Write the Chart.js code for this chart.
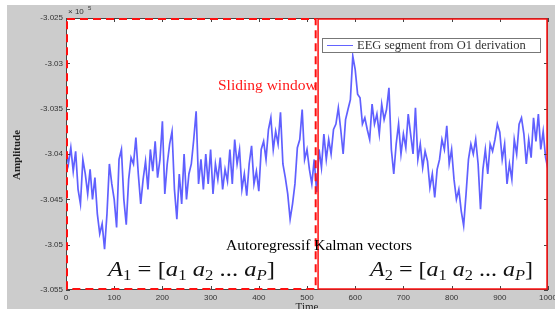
<!DOCTYPE html>
<html>
<head>
<meta charset="utf-8">
<script src="https://cdn.jsdelivr.net/npm/chart.js@4.4.1/dist/chart.umd.min.js"></script>
<style>
  html, body { margin: 0; padding: 0; background: #fff; }
  #wrap { width: 555px; height: 309px; }
</style>
</head>
<body>
<div id="wrap"><canvas id="eeg" width="555" height="309"></canvas></div>
<script>
// EEG amplitude (x 10^5), one sample every 5 time units
const timeStart = 0;
const timeStep = 5;
const amplitude = [
  -3.0395,-3.0411,-3.0393,-3.0419,-3.0397,-3.0439,-3.0455,-3.0406,-3.0422,-3.0444,-3.0417,-3.0450,-3.0426,-3.0466,-3.0488,-3.0477,-3.0505,-3.0466,-3.0411,-3.0433,
  -3.0450,-3.0481,-3.0406,-3.0395,-3.0450,-3.0478,-3.0428,-3.0404,-3.0411,-3.0382,-3.0422,-3.0455,-3.0428,-3.0408,-3.0439,-3.0395,-3.0419,-3.0386,-3.0426,-3.0406,
  -3.0364,-3.0444,-3.0411,-3.0389,-3.0375,-3.0439,-3.0472,-3.0422,-3.0455,-3.0400,-3.0450,-3.0422,-3.0411,-3.0384,-3.0353,-3.0433,-3.0406,-3.0439,-3.0400,-3.0433,
  -3.0395,-3.0444,-3.0411,-3.0428,-3.0404,-3.0439,-3.0417,-3.0430,-3.0395,-3.0433,-3.0384,-3.0411,-3.0395,-3.0439,-3.0422,-3.0446,-3.0411,-3.0391,-3.0433,-3.0419,
  -3.0441,-3.0395,-3.0386,-3.0406,-3.0373,-3.0360,-3.0395,-3.0375,-3.0389,-3.0354,-3.0411,-3.0426,-3.0444,-3.0472,-3.0455,-3.0433,-3.0393,-3.0384,-3.0351,-3.0406,
  -3.0395,-3.0417,-3.0433,-3.0406,-3.0442,-3.0395,-3.0415,-3.0378,-3.0406,-3.0384,-3.0400,-3.0373,-3.0367,-3.0349,-3.0373,-3.0400,-3.0362,-3.0351,-3.0340,-3.0292,
  -3.0307,-3.0334,-3.0338,-3.0367,-3.0360,-3.0373,-3.0384,-3.0345,-3.0367,-3.0356,-3.0378,-3.0345,-3.0362,-3.0351,-3.0327,-3.0395,-3.0422,-3.0389,-3.0367,-3.0400,
  -3.0378,-3.0393,-3.0356,-3.0378,-3.0400,-3.0349,-3.0406,-3.0389,-3.0415,-3.0397,-3.0408,-3.0437,-3.0422,-3.0448,-3.0417,-3.0406,-3.0384,-3.0395,-3.0369,-3.0411,
  -3.0395,-3.0428,-3.0450,-3.0439,-3.0463,-3.0479,-3.0444,-3.0406,-3.0389,-3.0400,-3.0384,-3.0411,-3.0461,-3.0417,-3.0395,-3.0422,-3.0389,-3.0397,-3.0384,-3.0367,
  -3.0376,-3.0406,-3.0389,-3.0433,-3.0411,-3.0428,-3.0384,-3.0400,-3.0367,-3.0360,-3.0378,-3.0411,-3.0384,-3.0404,-3.0360,-3.0386,-3.0356,-3.0395,-3.0375,-3.0404,
  -3.0417
];

const xTicks = [0, 100, 200, 300, 400, 500, 600, 700, 800, 900, 1000];
const yTicks = [-3.055, -3.05, -3.045, -3.04, -3.035, -3.03, -3.025];
const yTickLabels = ['-3.055', '-3.05', '-3.045', '-3.04', '-3.035', '-3.03', '-3.025'];

// sliding window boundaries (time units)
const windowEnd = 518;
const secondStart = 523;

const seriesLabel = 'EEG segment from O1 derivation';

const points = amplitude.map((v, i) => ({ x: timeStart + i * timeStep, y: v }));

const SERIF = "'Liberation Serif', 'DejaVu Serif', serif";

// draws a run of text pieces [text, italic, sub], squeezed/stretched to a width
function drawMath(ctx, x, y, parts, size, width) {
  const fontOf = p => (p[1] ? 'italic ' : '') + (p[2] ? size * 0.68 : size) + 'px ' + SERIF;
  let total = 0;
  parts.forEach(p => { ctx.font = fontOf(p); total += ctx.measureText(p[0]).width; });
  ctx.save();
  ctx.translate(x, y);
  ctx.scale(width / total, 1);
  let cx = 0;
  parts.forEach(p => {
    ctx.font = fontOf(p);
    ctx.fillText(p[0], cx, p[2] ? size * 0.22 : 0);
    cx += ctx.measureText(p[0]).width;
  });
  ctx.restore();
}

const decorPlugin = {
  id: 'decor',
  beforeDraw(chart) {
    const ctx = chart.ctx;
    const a = chart.chartArea;
    ctx.save();
    ctx.fillStyle = '#cccccc';
    ctx.fillRect(7, 5, 548, 304);
    ctx.fillStyle = '#ffffff';
    ctx.fillRect(a.left, a.top, a.right - a.left, a.bottom - a.top);
    ctx.restore();
  },
  afterDraw(chart) {
    const ctx = chart.ctx;
    const a = chart.chartArea;
    const xs = chart.scales.x;
    const ys = chart.scales.y;
    ctx.save();

    // axes box and inward ticks
    ctx.strokeStyle = '#444';
    ctx.lineWidth = 1;
    ctx.strokeRect(a.left + 0.5, a.top + 0.5, a.right - a.left - 1, a.bottom - a.top - 1);
    ctx.beginPath();
    xTicks.forEach(t => {
      const px = Math.round(xs.getPixelForValue(t)) + 0.5;
      ctx.moveTo(px, a.bottom); ctx.lineTo(px, a.bottom - 4);
      ctx.moveTo(px, a.top); ctx.lineTo(px, a.top + 4);
    });
    yTicks.forEach(t => {
      const py = Math.round(ys.getPixelForValue(t)) + 0.5;
      ctx.moveTo(a.left, py); ctx.lineTo(a.left + 4, py);
      ctx.moveTo(a.right, py); ctx.lineTo(a.right - 4, py);
    });
    ctx.stroke();

    // sliding window (dashed) and second window (solid)
    const xw = xs.getPixelForValue(windowEnd);
    const xs2 = xs.getPixelForValue(secondStart);
    ctx.strokeStyle = '#ff1010';
    ctx.lineWidth = 2;
    ctx.setLineDash([8, 5]);
    ctx.strokeRect(a.left + 1, a.top + 1, xw - a.left - 1, a.bottom - a.top - 2);
    ctx.setLineDash([]);
    ctx.lineWidth = 1.5;
    ctx.strokeRect(xs2, a.top + 1, a.right - xs2 - 1, a.bottom - a.top - 2);

    // legend
    ctx.fillStyle = '#fff';
    ctx.fillRect(322, 38, 218, 14);
    ctx.strokeStyle = '#777';
    ctx.lineWidth = 1;
    ctx.strokeRect(322.5, 38.5, 218, 14);
    ctx.strokeStyle = 'rgba(60,60,255,0.8)';
    ctx.beginPath();
    ctx.moveTo(327, 45.5); ctx.lineTo(353, 45.5);
    ctx.stroke();
    ctx.fillStyle = '#333';
    ctx.font = '12.5px ' + SERIF;
    ctx.textBaseline = 'middle';
    ctx.fillText(seriesLabel, 357, 46);

    // annotations
    ctx.fillStyle = '#ff1a1a';
    ctx.font = '15.5px ' + SERIF;
    ctx.fillText('Sliding window', 218, 86);
    ctx.fillStyle = '#000';
    ctx.font = '15.5px ' + SERIF;
    ctx.fillText('Autoregressif Kalman vectors', 226, 246);

    ctx.textBaseline = 'alphabetic';
    ctx.fillStyle = '#111';
    const eq = n => [['A', true], [n, false, true], [' = [', false], ['a', true], ['1', false, true], [' ', false],
      ['a', true], ['2', false, true], [' ... ', false], ['a', true], ['P', true, true], [']', false]];
    drawMath(ctx, 108, 276, eq('1'), 20, 167);
    drawMath(ctx, 370, 276, eq('2'), 20, 163);

    // axis titles
    ctx.fillStyle = '#222';
    ctx.font = '11px ' + SERIF;
    ctx.textAlign = 'center';
    ctx.textBaseline = 'top';
    ctx.fillText('Time', 307, 302);
    ctx.save();
    ctx.translate(17, 155);
    ctx.rotate(-Math.PI / 2);
    ctx.textBaseline = 'middle';
    ctx.font = 'bold 11px ' + SERIF;
    ctx.fillText('Amplitude', 0, 0);
    ctx.restore();

    // exponent
    ctx.textAlign = 'left';
    ctx.textBaseline = 'alphabetic';
    ctx.font = '8px Liberation Sans, sans-serif';
    ctx.fillStyle = '#333';
    ctx.fillText('\u00d7 10', 68, 14);
    ctx.font = '6px Liberation Sans, sans-serif';
    ctx.fillText('5', 88, 10);
    ctx.restore();
  }
};

new Chart(document.getElementById('eeg'), {
  type: 'line',
  data: {
    datasets: [{
      label: seriesLabel,
      data: points,
      borderColor: 'rgba(35,35,255,0.72)',
      borderWidth: 1.7,
      pointRadius: 0,
      tension: 0
    }]
  },
  options: {
    responsive: false,
    devicePixelRatio: 1,
    animation: false,
    layout: { padding: { left: 0, top: 18, right: 7, bottom: 0 } },
    plugins: { legend: { display: false }, tooltip: { enabled: false } },
    scales: {
      x: {
        type: 'linear', min: 0, max: 1000,
        grid: { display: false, drawTicks: false }, border: { display: false },
        afterBuildTicks: s => { s.ticks = xTicks.map(v => ({ value: v })); },
        ticks: {
          font: { size: 8, family: 'Liberation Sans' }, color: '#333', padding: 3, maxRotation: 0, autoSkip: false,
          callback: v => String(v)
        },
        afterFit: s => { s.height = 19; s.paddingLeft = 0; s.paddingRight = 0; }
      },
      y: {
        type: 'linear', min: -3.055, max: -3.025,
        grid: { display: false, drawTicks: false }, border: { display: false },
        afterBuildTicks: s => { s.ticks = yTicks.map(v => ({ value: v })); },
        ticks: {
          font: { size: 8, family: 'Liberation Sans' }, color: '#333', padding: 3, autoSkip: false,
          callback: (v, i) => yTickLabels[i]
        },
        afterFit: s => { s.width = 66; s.paddingTop = 0; s.paddingBottom = 0; }
      }
    }
  },
  plugins: [decorPlugin]
});
</script>
</body>
</html>
